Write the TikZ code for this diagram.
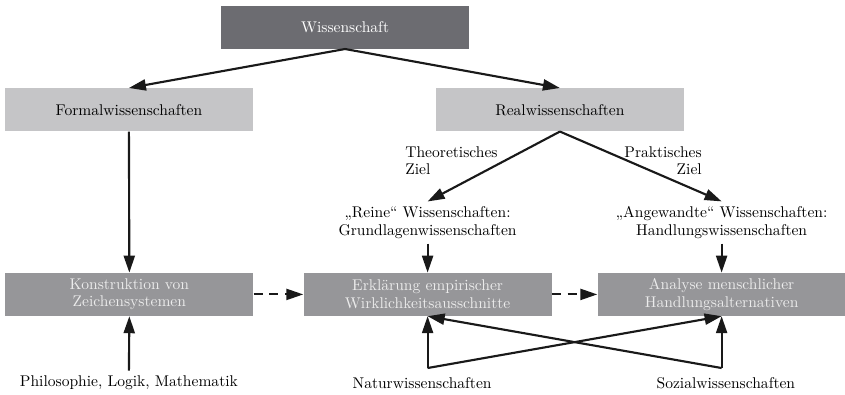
\documentclass[tikz,border=0pt]{standalone}
\usepackage{tikz}
\usetikzlibrary{arrows.meta}
\definecolor{darkbox}{RGB}{108,108,113}
\definecolor{midbox}{RGB}{150,150,153}
\definecolor{lightbox}{RGB}{197,197,199}
\definecolor{boxtext}{RGB}{236,236,236}

\begin{document}
\begin{tikzpicture}[
  every node/.style={font=\fontsize{10.4}{11.6}\selectfont},
  box/.style={minimum width=5.83cm, minimum height=1.01cm, inner sep=0pt, align=center},
  arr/.style={black!90, line width=0.05cm, -{Triangle[length=0.4cm,width=0.26cm]}},
  dasharr/.style={arr, dash pattern=on 0.21cm off 0.16cm}
]
\useasboundingbox (0,0) rectangle (19.86,9.28);

% oberste Ebene
\node[box, fill=darkbox, text=white] (wiss) at (8.11,8.64) {Wissenschaft};
\node[box, fill=lightbox] (formal) at (3.03,6.70) {Formalwissenschaften};
\node[box, fill=lightbox] (real) at (13.16,6.70) {Realwissenschaften};

\draw[arr] (wiss.south) -- (formal.north);
\draw[arr] (wiss.south) -- (real.north);

% Ziele
\node[align=left, anchor=west, inner sep=0pt] (theo) at (9.52,5.51) {Theoretisches\\Ziel};
\node[align=right, anchor=east, inner sep=0pt] (prakt) at (16.50,5.51) {Praktisches\\Ziel};

\node[align=center] (reine) at (10.05,4.05) {„Reine“ Wissenschaften:\\Grundlagenwissenschaften};
\node[align=center] (angew) at (16.96,4.05) {„Angewandte“ Wissenschaften:\\Handlungswissenschaften};

\draw[arr] (real.south) -- (reine.north);
\draw[arr] (real.south) -- (angew.north);

% untere Ebene
\node[box, fill=midbox, text=boxtext] (konstr) at (3.04,2.36) {Konstruktion von\\Zeichensystemen};
\node[box, fill=midbox, text=boxtext] (erkl) at (10.05,2.36) {Erkl\"arung empirischer\\Wirklichkeitsausschnitte};
\node[box, fill=midbox, text=boxtext] (anal) at (16.96,2.36) {Analyse menschlicher\\Handlungsalternativen};

\draw[arr] (formal.south) -- (konstr.north);
\draw[arr] (reine.south) -- (erkl.north);
\draw[arr] (angew.south) -- (anal.north);
\draw[dasharr] (konstr.east) -- (erkl.west);
\draw[dasharr] (erkl.east) -- (anal.west);

% Disziplinen
\node (philo) at (3.03,0.28) {Philosophie, Logik, Mathematik};
\node (natur) at (9.92,0.28) {Naturwissenschaften};
\node (sozial) at (17.06,0.28) {Sozialwissenschaften};
\coordinate (natc) at (10.05,0.63);
\coordinate (sozc) at (16.96,0.63);

\draw[arr] (philo.north) -- (konstr.south);
\draw[arr] (natc) -- (erkl.south);
\draw[arr] (natc) -- (anal.south);
\draw[arr] (sozc) -- (anal.south);
\draw[arr] (sozc) -- (erkl.south);
\end{tikzpicture}
\end{document}
